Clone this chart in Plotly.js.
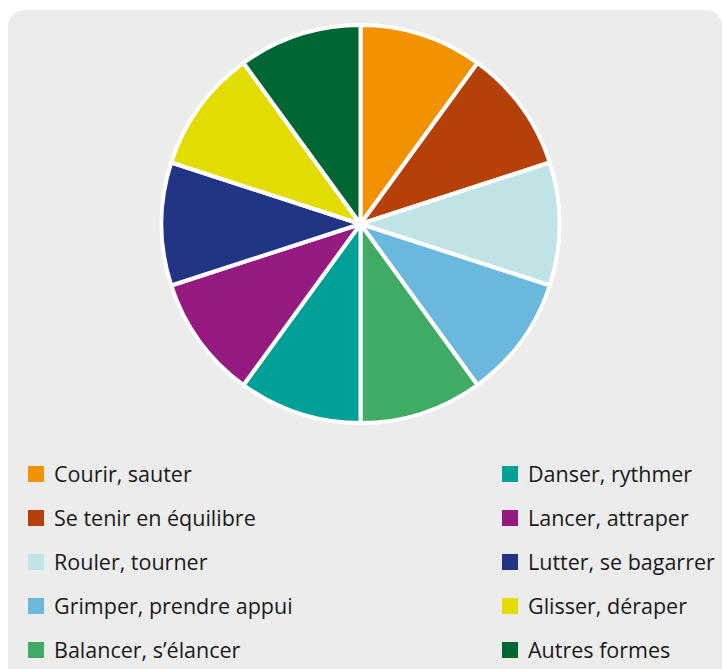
<!DOCTYPE html>
<html>
<head>
<meta charset="utf-8">
<script src="https://cdn.plot.ly/plotly-3.0.1.min.js"></script>
<style>html,body{margin:0;padding:0;background:#fff;}#chart{width:724px;height:669px;}</style>
</head>
<body>
<div id="chart"></div>
<script>
const labels = ["Courir, sauter","Se tenir en équilibre","Rouler, tourner","Grimper, prendre appui","Balancer, s’élancer","Danser, rythmer","Lancer, attraper","Lutter, se bagarrer","Glisser, déraper","Autres formes"];
const values = [10,10,10,10,10,10,10,10,10,10];
const colors = ["#f39200","#b5400a","#c0e3e6","#6ab8de","#3fab64","#00a096","#951b80","#213584","#e3dc00","#006633"];

const W = 724, H = 669;
const px = x => x / W;
const py = y => 1 - y / H;

const trace = {
  type: "pie",
  labels: labels,
  values: values,
  sort: false,
  direction: "clockwise",
  rotation: 0,
  textinfo: "none",
  hoverinfo: "label",
  showlegend: false,
  marker: {colors: colors, line: {color: "#ffffff", width: 4}},
  domain: {x: [px(160), px(561)], y: [py(423), py(25)]}
};

// panel with rounded corners
const L = 8, T = 10, R = 722, B = 690, r = 18;
const panelPath = `M ${px(L)} ${py(T + r)} Q ${px(L)} ${py(T)} ${px(L + r)} ${py(T)} L ${px(R - r)} ${py(T)} Q ${px(R)} ${py(T)} ${px(R)} ${py(T + r)} L ${px(R)} ${py(B - r)} Q ${px(R)} ${py(B)} ${px(R - r)} ${py(B)} L ${px(L + r)} ${py(B)} Q ${px(L)} ${py(B)} ${px(L)} ${py(B - r)} Z`;

const shapes = [{type: "path", path: panelPath, xref: "paper", yref: "paper", fillcolor: "#ececec", line: {width: 0}, layer: "below"}];
const annotations = [];
const colX = [28, 502];
const rowY = [474, 518, 562, 606, 650];
const sq = 16;
labels.forEach((lab, i) => {
  const col = Math.floor(i / 5), row = i % 5;
  const x0 = colX[col], yc = rowY[row];
  shapes.push({type: "rect", xref: "paper", yref: "paper",
    x0: px(x0), x1: px(x0 + sq), y0: py(yc - sq / 2), y1: py(yc + sq / 2),
    fillcolor: colors[i], line: {width: 0}});
  annotations.push({xref: "paper", yref: "paper", x: px(x0 + 24), y: py(yc - 0.5),
    xanchor: "left", yanchor: "middle", showarrow: false, text: lab,
    font: {family: "Open Sans, sans-serif", size: 21.5, color: "#1a1a1a"}});
});

const layout = {
  width: W, height: H,
  margin: {l: 0, r: 0, t: 0, b: 0},
  paper_bgcolor: "#ffffff",
  showlegend: false,
  shapes: shapes,
  annotations: annotations
};

Plotly.newPlot("chart", [trace], layout, {displayModeBar: false, staticPlot: true});
</script>
</body>
</html>
